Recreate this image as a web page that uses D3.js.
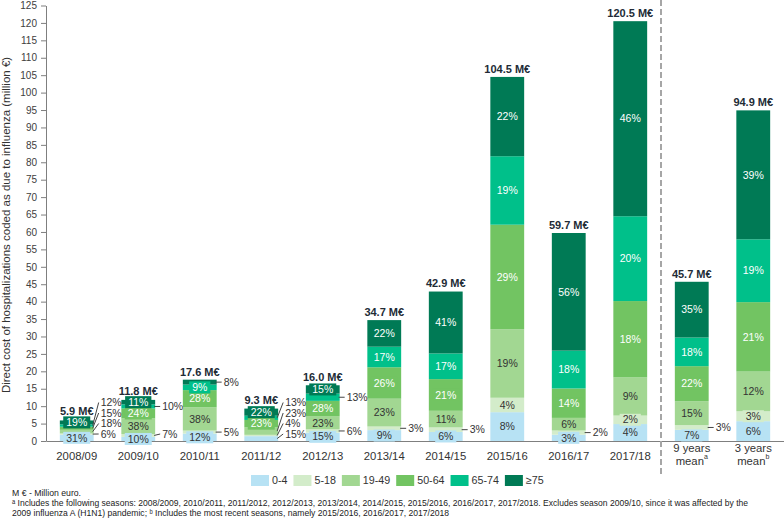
<!DOCTYPE html>
<html><head><meta charset="utf-8">
<script src="https://cdn.jsdelivr.net/npm/d3@7"></script>
<style>body{margin:0;background:#fff} svg text{font-family:"Liberation Sans",Arial,sans-serif}</style>
</head><body><svg id="c" width="784" height="519"></svg>
<script>
const categories = ["2008/09","2009/10","2010/11","2011/12","2012/13","2013/14","2014/15","2015/16","2016/17","2017/18","9 years mean","3 years mean"];
const footMarks = ["","","","","","","","","","","a","b"];
const totals = [5.9, 11.8, 17.6, 9.3, 16.0, 34.7, 42.9, 104.5, 59.7, 120.5, 45.7, 94.9];
const ageGroups = ["0-4","5-18","19-49","50-64","65-74","≥75"];
const share_0_4   = [31,10,12,15,15, 9, 6, 8, 3, 4, 7, 6];
const share_5_18  = [ 6, 7, 5, 4, 6, 3, 3, 4, 2, 2, 3, 3];
const share_19_49 = [18,38,38,23,23,23,11,19, 6, 9,15,12];
const share_50_64 = [15,24,28,23,28,26,21,29,14,18,22,21];
const share_65_74 = [12,10, 9,13,13,17,17,19,18,20,18,19];
const share_75    = [19,11, 8,22,15,22,41,22,56,46,35,39];
// age-group indexes whose % label sits outside the bar
const outsideLabels = [[1,2,3,4],[1,4],[1,5],[0,1,2,4],[1,4],[1],[1],[],[1],[],[1],[]];
const yTicks = d3.range(0, 126, 5);
const colors = ["#b7e2f4","#d3ecca","#a2d792","#72c462","#00c08a","#007a55"];
const whiteText = [false,false,false,true,true,true];

const shares = [share_0_4, share_5_18, share_19_49, share_50_64, share_65_74, share_75];
const svg = d3.select("#c");
const FONT = '"Liberation Sans",Arial,sans-serif';

const x = d3.scaleBand().domain(categories).range([46, 784]).paddingInner(0.45).paddingOuter(0.225);
const y = d3.scaleLinear().domain([0, 125]).range([441, 5.5]);
const bw = x.bandwidth();

const rows = categories.map((c, i) => {
  const s = shares.map(a => a[i]);
  const sum = d3.sum(s);
  const o = {cat: c};
  ageGroups.forEach((g, k) => o[g] = totals[i] * s[k] / sum);
  return o;
});
const stacked = d3.stack().keys(ageGroups)(rows);

// Y axis
const gy = svg.append("g").attr("transform", "translate(46,0)")
  .call(d3.axisLeft(y).tickValues(yTicks).tickSize(5).tickSizeOuter(0).tickPadding(4));
gy.select(".domain").attr("stroke", "#7f7f7f");
gy.selectAll(".tick line").attr("stroke", "#7f7f7f");
gy.selectAll(".tick text").attr("font-size", 10).attr("fill", "#404040").attr("font-family", FONT);

// X axis
const gx = svg.append("g").attr("transform", "translate(0,441)")
  .call(d3.axisBottom(x).tickSize(0).tickSizeOuter(0).tickPadding(11));
gx.select(".domain").attr("stroke", "#7f7f7f");
gx.selectAll(".tick text").attr("font-size", 11.3).attr("fill", "#333").attr("font-family", FONT)
  .each(function(d, i) {
    const t = d3.select(this);
    if (d.endsWith(" mean")) {
      t.text(null);
      t.append("tspan").attr("x", 0).attr("dy", "0").text(d.replace(" mean", ""));
      t.append("tspan").attr("x", 0).attr("dy", "1.15em").text("mean");
      t.append("tspan").attr("font-size", 7).attr("dy", "-0.9em").text(footMarks[i]);
    }
  });

// dashed separator
const sepX = (x(categories[9]) + bw + x(categories[10])) / 2;
svg.append("line").attr("x1", sepX).attr("x2", sepX).attr("y1", 0).attr("y2", 475)
  .attr("stroke", "#a6a6a6").attr("stroke-width", 2).attr("stroke-dasharray", "6,3");

// bars
const gBars = svg.append("g");
stacked.forEach((layer, k) => {
  gBars.selectAll(null).data(layer).enter().append("rect")
    .attr("x", d => x(d.data.cat)).attr("width", bw)
    .attr("y", d => y(d[1])).attr("height", d => y(d[0]) - y(d[1]))
    .attr("fill", colors[k]);
});

// labels
const gLab = svg.append("g");
categories.forEach((c, i) => {
  const cx = x(c) + bw / 2, right = x(c) + bw;
  let prevOut = Infinity;
  let topBox = Infinity;
  for (let k = 0; k < ageGroups.length; k++) {
    const seg = stacked[k][i];
    const mid = (y(seg[0]) + y(seg[1])) / 2;
    const pct = shares[k][i] + "%";
    if (outsideLabels[i].includes(k)) {
      const ly = Math.min(mid, y(0) - 7, prevOut - 10.5);
      prevOut = ly;
      gLab.append("line").attr("x1", right - 1).attr("y1", mid).attr("x2", right + 5).attr("y2", ly)
        .attr("stroke", "#444").attr("stroke-width", 1);
      gLab.append("text").attr("x", right + 7).attr("y", ly).attr("dy", "0.35em")
        .attr("font-size", 10.5).attr("fill", "#333").text(pct);
    } else {
      const g = gLab.append("g");
      const t = g.append("text").attr("x", cx).attr("y", mid).attr("dy", "0.35em")
        .attr("text-anchor", "middle").attr("font-size", 10.5)
        .attr("fill", whiteText[k] ? "#fff" : "#333").text(pct);
      const w = t.node().getComputedTextLength();
      g.insert("rect", "text").attr("x", cx - w / 2 - 3).attr("width", w + 6)
        .attr("y", mid - 6).attr("height", 12).attr("fill", colors[k]);
      topBox = Math.min(topBox, mid - 6);
    }
  }
  const barTop = y(totals[i]);
  const ty = Math.min(barTop - 8, topBox - 5);
  gLab.append("text").attr("x", cx).attr("y", ty).attr("dy", "0.35em")
    .attr("text-anchor", "middle").attr("font-size", 11).attr("font-weight", "bold")
    .attr("fill", "#222b36").text(totals[i].toFixed(1) + " M€");
});

// Y title
svg.append("text").attr("transform", "translate(10,225) rotate(-90)")
  .attr("text-anchor", "middle").attr("font-size", 11.5).attr("fill", "#333")
  .text("Direct cost of hospitalizations coded as due to influenza (million €)");

// legend
let lx = 251;
const gLeg = svg.append("g");
ageGroups.forEach((g, k) => {
  gLeg.append("rect").attr("x", lx).attr("y", 475).attr("width", 18).attr("height", 11).attr("fill", colors[k]);
  const t = gLeg.append("text").attr("x", lx + 21).attr("y", 480.5).attr("dy", "0.35em")
    .attr("font-size", 10.7).attr("fill", "#333").text(g);
  lx += 21 + t.node().getComputedTextLength() + 6;
});

// footnotes
svg.append("text").attr("x", 12).attr("y", 495.7).attr("font-size", 8.7).attr("fill", "#222")
  .text("M € - Million euro.");
svg.append("text").attr("x", 12).attr("y", 506).attr("font-size", 8.7).attr("fill", "#222")
  .attr("textLength", 736).attr("lengthAdjust", "spacingAndGlyphs")
  .text("ᵃ Includes the following seasons: 2008/2009, 2010/2011, 2011/2012, 2012/2013, 2013/2014, 2014/2015, 2015/2016, 2016/2017, 2017/2018. Excludes season 2009/10, since it was affected by the");
svg.append("text").attr("x", 12).attr("y", 516).attr("font-size", 8.7).attr("fill", "#222")
  .attr("textLength", 437).attr("lengthAdjust", "spacingAndGlyphs")
  .text("2009 influenza A (H1N1) pandemic; ᵇ Includes the most recent seasons,  namely 2015/2016, 2016/2017, 2017/2018");
</script></body></html>
